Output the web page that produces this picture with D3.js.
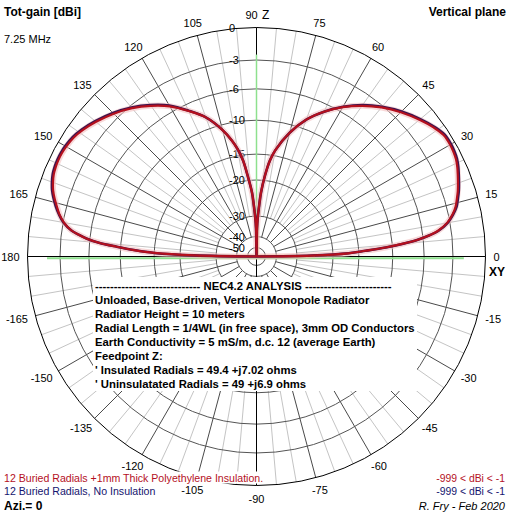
<!DOCTYPE html>
<html>
<head>
<meta charset="utf-8">
<script src="https://cdn.jsdelivr.net/npm/d3@7"></script>
<style>
body { margin: 0; background: #fff; }
svg { display: block; font-family: "Liberation Sans", Arial, sans-serif; }
</style>
</head>
<body>
<div id="chart"></div>
<script>
const width = 512, height = 512;
const cx = 256.5, cy = 256.5, R = 229;

// gain rings (dBi) and where each one sits as a share of the outer radius
const ringDb = [-50, -40, -30, -20, -15, -10, -6, -3, 0];
const ringFrac = [0.039, 0.087, 0.177, 0.334, 0.447, 0.595, 0.732, 0.858, 1];

const angleLabels = [0, 15, 30, 45, 60, 75, 90, 105, 120, 135, 150, 165, 180,
    -165, -150, -135, -120, -105, -90, -75, -60, -45, -30, -15];

// elevation angle (deg) of each pattern sample
const theta = [0, 1, 2, 3, 4, 5, 6, 7, 8, 10, 12, 14, 16, 18, 20, 22, 24, 26, 28, 30,
    33, 36, 40, 45, 50, 55, 60, 65, 70, 75, 80, 82, 84, 86, 87, 88, 89, 90,
    91, 92, 93, 94, 96, 98, 100, 102, 105, 110, 115, 120, 125, 130, 135, 140, 144,
    147, 150, 152, 154, 156, 158, 160, 162, 164, 166, 168, 170, 172, 173, 174, 175,
    176, 177, 178, 179, 180];

// 12 buried radials + 1mm polyethylene insulation
const gainInsulated = [-999, -26, -17, -14, -11, -8.6, -6.6, -5.3, -4.4, -3.3, -2.65, -2.2, -1.9, -1.6, -1.35, -1.1, -0.85, -0.65, -0.55, -0.5,
    -0.55, -0.9, -1.5, -2.3, -3.2, -4.3, -5.5, -7.0, -8.8, -11.2, -14.2, -16, -19, -23.5, -27, -30, -36, -999,
    -36, -30, -27, -23.5, -19.5, -16, -14, -12.6, -10.8, -8.5, -6.9, -5.4, -4.3, -3.3, -2.5, -1.8, -1.3,
    -1.0, -0.85, -0.8, -0.8, -0.85, -0.95, -1.15, -1.4, -1.75, -2.15, -2.55, -3.1, -4.0, -4.8, -5.7, -7.2,
    -9.5, -12, -15, -24, -999];

// 12 buried radials, no insulation
const gainBare = [-999, -26, -17, -14, -11, -8.6, -6.6, -5.3, -4.35, -3.25, -2.6, -2.1, -1.8, -1.5, -1.25, -1.0, -0.75, -0.55, -0.45, -0.4,
    -0.45, -0.8, -1.4, -2.2, -3.1, -4.2, -5.45, -7.0, -8.8, -11.2, -14.2, -16, -19, -23.5, -27, -30, -36, -999,
    -36, -30, -27, -23.5, -19.5, -16, -14, -12.6, -10.8, -8.5, -6.85, -5.3, -4.2, -3.2, -2.4, -1.7, -1.2,
    -0.9, -0.75, -0.7, -0.7, -0.75, -0.85, -1.05, -1.3, -1.65, -2.05, -2.5, -3.05, -4.0, -4.8, -5.7, -7.2,
    -9.5, -12, -15, -24, -999];

const infoTitle = '---------------------------- NEC4.2 ANALYSIS -----------------------';
const infoLines = [
    'Unloaded, Base-driven, Vertical Monopole Radiator',
    'Radiator Height = 10 meters',
    'Radial Length = 1/4WL (in free space), 3mm OD Conductors',
    'Earth Conductivity = 5 mS/m, d.c. 12 (average Earth)',
    'Feedpoint Z:',
    '\' Insulated Radials = 49.4 +j7.02 ohms',
    '\' Uninsulatated Radials = 49 +j6.9 ohms'
];

const red = '#b4101e', navy = '#14146e';

const svg = d3.select('#chart').append('svg')
    .attr('width', width)
    .attr('height', height);

const r = d3.scaleLinear()
    .domain([-60, ...ringDb])
    .range([0, ...ringFrac.map(f => f * R)])
    .clamp(true);

const rad = d => d * Math.PI / 180;
const g = svg.append('g').attr('transform', `translate(${cx},${cy})`);

// Spokes every 5 deg, darker every 15 deg
const spokes = d3.range(0, 360, 5).filter(a => a % 90 !== 0);
g.selectAll('.spoke')
    .data(spokes)
    .enter()
    .append('line')
    .attr('x1', a => (a % 15 === 0 ? r(-40) : r(-30)) * Math.cos(rad(a)))
    .attr('y1', a => -(a % 15 === 0 ? r(-40) : r(-30)) * Math.sin(rad(a)))
    .attr('x2', a => R * Math.cos(rad(a)))
    .attr('y2', a => -R * Math.sin(rad(a)))
    .attr('stroke', a => a % 15 === 0 ? '#4a4a4a' : '#c4c4c4')
    .attr('stroke-width', 1);

// Rings
g.selectAll('.ring')
    .data(ringDb)
    .enter()
    .append('circle')
    .attr('r', d => r(d))
    .attr('fill', 'none')
    .attr('stroke', d => d === 0 ? '#000' : '#555')
    .attr('stroke-width', 1);

// Axes
g.append('line').attr('x1', -R).attr('x2', R).attr('y1', 0).attr('y2', 0).attr('stroke', '#000');
g.append('line').attr('x1', 0).attr('x2', 0).attr('y1', -R).attr('y2', R).attr('stroke', '#000');

// green reference lines
g.append('line').attr('x1', -r(-1.8)).attr('x2', r(-2)).attr('y1', 1.8).attr('y2', 1.8)
    .attr('stroke', '#8ee08e').attr('stroke-width', 2);
g.append('line').attr('x1', 0).attr('x2', 0).attr('y1', 0).attr('y2', -r(-2.5))
    .attr('stroke', '#8ee08e').attr('stroke-width', 1.5);

// orange glow where the trace runs along the axes
g.append('line').attr('x1', -r(-25)).attr('x2', r(-25)).attr('y1', -0.5).attr('y2', -0.5)
    .attr('stroke', '#e8b030').attr('stroke-width', 2.5);
g.append('line').attr('x1', 1).attr('x2', 1).attr('y1', 0).attr('y2', -r(-30))
    .attr('stroke', '#e8b030').attr('stroke-width', 2);

// Ring labels along the vertical axis
g.selectAll('.ringLabel')
    .data(ringDb)
    .enter()
    .append('text')
    .attr('x', -27.5)
    .attr('y', d => -r(d))
    .attr('dominant-baseline', 'central')
    .style('font-size', '11px')
    .text(d => d);

// Patterns
const pts = series => theta.map((t, i) => ({ t, g: series[i] }));
const line = d3.lineRadial()
    .angle(d => rad(90 - d.t))
    .radius(d => r(d.g))
    .curve(d3.curveCatmullRom);

g.append('path').datum(pts(gainInsulated)).attr('d', line)
    .attr('fill', 'none').attr('stroke', '#f4c0c0').attr('stroke-width', 6).attr('opacity', 0.6);
g.append('path').datum(pts(gainBare)).attr('d', line)
    .attr('fill', 'none').attr('stroke', '#3a1450').attr('stroke-width', 2.6);
g.append('path').datum(pts(gainInsulated)).attr('d', line)
    .attr('fill', 'none').attr('stroke', red).attr('stroke-width', 2.2);

// Angle labels round the outer circle
angleLabels.forEach(a => {
    const lr = 237;
    const t = svg.append('text')
        .attr('text-anchor', 'middle')
        .attr('dominant-baseline', 'central')
        .style('font-size', '11px')
        .text(a);
    const w = t.node().getComputedTextLength();
    let x = cx + lr * Math.cos(rad(a)) + w / 2 * Math.cos(rad(a));
    let y = cy - lr * Math.sin(rad(a)) - 5 * Math.sin(rad(a));
    if (a === 90) x -= 5;
    t.attr('x', x).attr('y', y);
});

svg.append('text').attr('x', 262).attr('y', 19).style('font-size', '12px').text('Z');
svg.append('text').attr('x', 489).attr('y', 276).style('font-size', '12px')
    .style('font-weight', 'bold').text('XY');

// Info box
svg.append('rect').attr('x', 93).attr('y', 277).attr('width', 324).attr('height', 114).attr('fill', '#fff');
const info = svg.append('g').style('font-size', '11.3px').style('font-weight', 'bold');
info.append('text')
    .attr('x', 95).attr('y', 289.5)
    .text(infoTitle);
info.selectAll('.info')
    .data(infoLines)
    .enter()
    .append('text')
    .attr('x', 95)
    .attr('y', (d, i) => 304 + i * 14)
    .text(d => d);

// Titles
svg.append('text').attr('x', 4).attr('y', 16).style('font-size', '12px').style('font-weight', 'bold')
    .text('Tot-gain [dBi]');
svg.append('text').attr('x', 4).attr('y', 43).style('font-size', '11px').text('7.25 MHz');
svg.append('text').attr('x', 506).attr('y', 16).attr('text-anchor', 'end')
    .style('font-size', '12px').style('font-weight', 'bold').text('Vertical plane');

// Legend
const legend = [
    { label: '12 Buried Radials +1mm Thick Polyethylene Insulation.', color: red },
    { label: '12 Buried Radials, No Insulation', color: navy }
];
legend.forEach((d, i) => {
    const row = svg.append('g');
    const t = row.append('text').attr('x', 4).attr('y', 481.5 + i * 13.5)
        .style('font-size', '10.6px').attr('fill', d.color).text(d.label);
    const b = t.node().getBBox();
    row.insert('rect', 'text').attr('x', b.x - 1).attr('y', b.y).attr('width', b.width + 2)
        .attr('height', b.height).attr('fill', '#fff');
    row.append('text').attr('x', 505).attr('y', 481.5 + i * 13.5).attr('text-anchor', 'end')
        .style('font-size', '10.4px').attr('fill', d.color).text('-999 < dBi < -1');
});

svg.append('text').attr('x', 4).attr('y', 510).style('font-size', '12px').style('font-weight', 'bold')
    .text('Azi.= 0');
svg.append('text').attr('x', 505).attr('y', 510).attr('text-anchor', 'end')
    .style('font-size', '11px').style('font-style', 'italic').text('R. Fry - Feb 2020');
</script>
</body>
</html>
